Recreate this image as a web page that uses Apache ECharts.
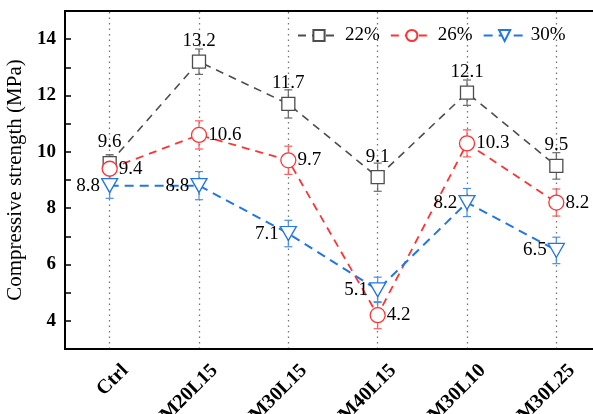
<!DOCTYPE html>
<html>
<head>
<meta charset="utf-8">
<script src="https://cdn.jsdelivr.net/npm/echarts@6/dist/echarts.min.js"></script>
<style>html,body{margin:0;padding:0;background:#fff;}#c{width:593px;height:414px;}</style>
</head>
<body>
<div id="c"></div>
<script>
const categories = ['Ctrl', 'M20L15', 'M30L15', 'M40L15', 'M30L10', 'M30L25'];
const seriesNames = ['22%', '26%', '30%'];
const s22 = [9.6, 13.2, 11.7, 9.1, 12.1, 9.5];
const s26 = [9.4, 10.6, 9.7, 4.2, 10.3, 8.2];
const s30 = [8.8, 8.8, 7.1, 5.1, 8.2, 6.5];
const e22 = [0.3, 0.45, 0.5, 0.5, 0.45, 0.47];
const e26 = [0.45, 0.5, 0.5, 0.48, 0.48, 0.48];
const e30 = [0.45, 0.5, 0.47, 0.45, 0.5, 0.47];
const yMin = 3, yMax = 15, yStep = 1;

const FONT = 'Liberation Serif';
const colors = ['#4d4d4d', '#ff3333', '#2277e0'];
const errColors = ['#6a6a6a', '#ff5a5a', '#4a8fe6'];

function errData(vals, errs) {
  return vals.map((v, i) => [i, v - errs[i], v + errs[i]]);
}
function errSeries(vals, errs, color) {
  return {
    type: 'custom',
    name: 'err',
    z: 1,
    silent: true,
    data: errData(vals, errs),
    renderItem: function (params, api) {
      const x = api.value(0);
      const lo = api.coord([x, api.value(1)]);
      const hi = api.coord([x, api.value(2)]);
      const hw = 4;
      const st = { stroke: color, lineWidth: 1.2 };
      return {
        type: 'group',
        children: [
          { type: 'line', shape: { x1: lo[0], y1: lo[1], x2: hi[0], y2: hi[1] }, style: st },
          { type: 'line', shape: { x1: lo[0] - hw, y1: lo[1], x2: lo[0] + hw, y2: lo[1] }, style: st },
          { type: 'line', shape: { x1: hi[0] - hw, y1: hi[1], x2: hi[0] + hw, y2: hi[1] }, style: st }
        ]
      };
    }
  };
}

const labelBase = { show: true, color: '#000', fontFamily: FONT, fontSize: 19 };

const chart = echarts.init(document.getElementById('c'));
chart.setOption({
  animation: false,
  grid: {
    left: 65, top: 11, right: -8, bottom: 65, show: true, borderColor: '#000', borderWidth: 2,
    containLabel: false, outerBoundsMode: 'none'
  },
  legend: {
    data: seriesNames,
    left: 292, top: 21,
    itemWidth: 42, itemHeight: 14, itemGap: 10,
    textStyle: { fontFamily: FONT, fontSize: 19, color: '#000' }
  },
  xAxis: {
    type: 'category',
    data: categories,
    boundaryGap: true,
    axisLine: { lineStyle: { color: '#000', width: 2 } },
    axisTick: { inside: true, alignWithLabel: true, length: 8, lineStyle: { color: '#000', width: 1.5 } },
    axisLabel: {
      rotate: 45, margin: 3, color: '#000', fontFamily: FONT, fontSize: 20, fontWeight: 'bold', interval: 0,
      verticalAlign: 'top', padding: [12, 0, 0, 0]
    },
    splitLine: { show: false }
  },
  yAxis: {
    type: 'value',
    min: yMin, max: yMax, interval: yStep,
    name: 'Compressive strength (MPa)',
    nameLocation: 'middle',
    nameGap: 30,
    nameTextStyle: { fontFamily: FONT, fontSize: 21, color: '#000' },
    axisLine: { show: true, lineStyle: { color: '#000', width: 2 } },
    axisTick: { show: true, inside: true, length: 6, lineStyle: { color: '#000', width: 1.5 } },
    axisLabel: {
      color: '#000', fontFamily: FONT, fontSize: 19, fontWeight: 'bold', margin: 9,
      formatter: v => (v % 2 === 0 ? String(v) : '')
    },
    splitLine: { show: false }
  },
  series: [
    errSeries(s22, e22, errColors[0]),
    errSeries(s26, e26, errColors[1]),
    errSeries(s30, e30, errColors[2]),
    {
      type: 'line', name: seriesNames[0], data: s22, z: 3,
      symbol: 'rect', symbolSize: 13,
      itemStyle: { color: '#fff', borderColor: colors[0], borderWidth: 1.3 },
      lineStyle: { color: colors[0], width: 1.6, type: [8, 6] },
      label: Object.assign({}, labelBase, { position: 'top', distance: 4 }),
      markLine: {
        silent: true, symbol: 'none', z: 0,
        label: { show: false },
        lineStyle: { color: '#777', type: [1.5, 4], width: 1.3 },
        emphasis: { disabled: true },
        data: categories.map(c => ({ xAxis: c }))
      }
    },
    {
      type: 'line', name: seriesNames[1], data: s26, z: 4,
      symbol: 'circle', symbolSize: 15,
      itemStyle: { color: '#fff', borderColor: colors[1], borderWidth: 1.3 },
      lineStyle: { color: colors[1], width: 1.8, type: [8, 6] },
      label: Object.assign({}, labelBase, { position: 'right', distance: 1 })
    },
    {
      type: 'line', name: seriesNames[2], data: s30, z: 5,
      symbol: 'triangle', symbolRotate: 180, symbolSize: [16, 14],
      itemStyle: { color: '#fff', borderColor: colors[2], borderWidth: 1.3 },
      lineStyle: { color: colors[2], width: 2, type: [9, 6] },
      label: Object.assign({}, labelBase, { position: 'left', distance: 1 })
    }
  ]
});
</script>
</body>
</html>
